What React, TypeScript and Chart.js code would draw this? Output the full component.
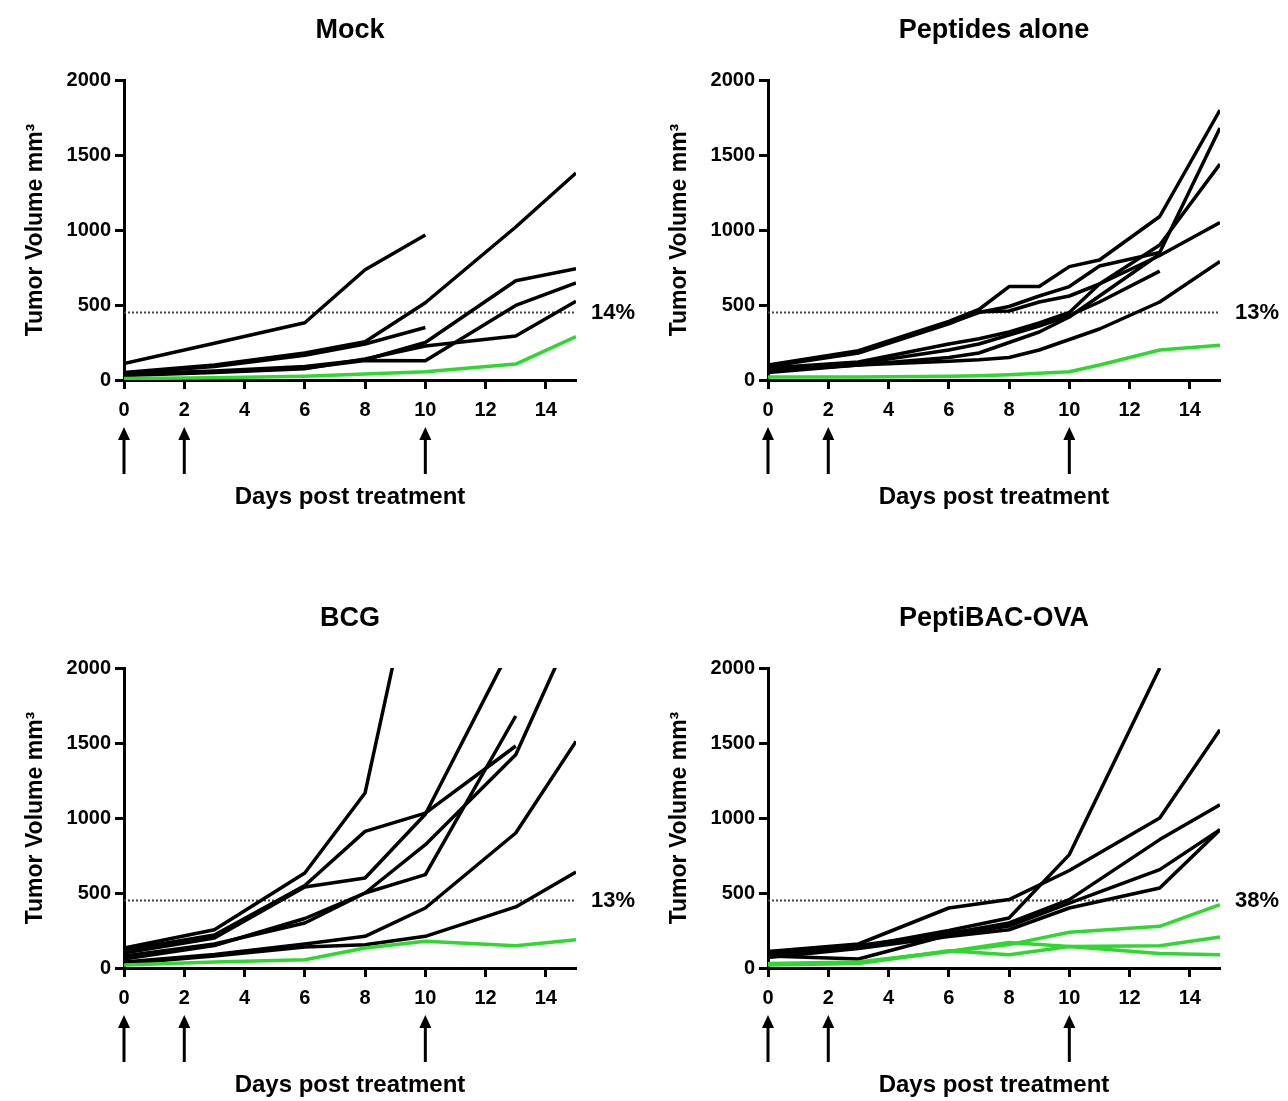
import React, { useEffect, useRef } from 'react';
import { Chart, registerables } from 'chart.js';

Chart.register(...registerables);

const FONT = "'Liberation Sans', Arial, Helvetica, sans-serif";
const GREEN = '#2ed82e';

// Axes
const X_TICKS = [0, 2, 4, 6, 8, 10, 12, 14];
const Y_TICKS = [0, 500, 1000, 1500, 2000];
const X_MIN = 0;
const X_MAX = 15;
const Y_MIN = 0;
const Y_MAX = 2000;
const THRESHOLD = 450;
const TREATMENT_DAYS = [0, 2, 10];
const X_TITLE = 'Days post treatment';
const Y_TITLE = 'Tumor Volume mm³';

// Mock
const mockDays = [0, 3, 6, 8, 10, 13, 15];
const mockBlack = [
  [110, 245, 382, 735, 967, null, null],
  [50, 100, 180, 255, 515, 1020, 1380],
  [45, 90, 165, 240, 350, null, null],
  [40, 60, 90, 135, 250, 662, 742],
  [35, 55, 80, 130, 128, 497, 647],
  [30, 50, 75, 140, 227, 294, 525],
];
const mockGreen = [[10, 15, 25, 40, 55, 106, 289]];

// Peptides alone
const pepDays = [0, 3, 6, 7, 8, 9, 10, 11, 13, 15];
const pepBlack = [
  [100, 195, 390, 470, 623, 623, 756, 800, 1090, 1800],
  [95, 185, 380, 450, 490, 560, 623, 760, 850, 1680],
  [90, 180, 375, 455, 460, 520, 560, 640, 900, 1440],
  [80, 120, 240, 275, 320, 380, 450, 640, 830, 1050],
  [70, 110, 200, 240, 300, 360, 430, 520, 726, null],
  [60, 100, 150, 180, 250, 320, 420, 560, 840, null],
  [50, 100, 125, 135, 150, 200, 270, 340, 520, 790],
];
const pepGreen = [[20, 20, 25, 28, 35, 45, 55, 100, 200, 232]];

// BCG
const bcgDays = [0, 3, 6, 8, 9, 10, 12, 13, 15];
const bcgBlack = [
  [133, 255, 633, 1167, 2090, null, null, null, null],
  [120, 220, 550, 911, null, 1033, 1330, 1480, null],
  [100, 200, 540, 600, null, 1025, null, 2200, null],
  [80, 160, 300, 500, null, 622, null, 1680, null],
  [60, 150, 330, 500, null, 822, null, 1422, 2310],
  [40, 90, 160, 211, null, 400, null, 900, 1511],
  [30, 80, 140, 155, null, 211, null, 407, 640],
];
const bcgGreen = [[20, 40, 55, 133, null, 178, null, 149, 189]];

// PeptiBAC-OVA
const pbDays = [0, 3, 6, 8, 10, 13, 15];
const pbBlack = [
  [100, 140, 250, 333, 756, 2000, null],
  [110, 160, 400, 456, 650, 1000, 1589],
  [90, 150, 230, 300, 456, 856, 1089],
  [80, 60, 220, 280, 433, 656, 922],
  [70, 130, 210, 255, 400, 533, 922],
];
const pbGreen = [
  [30, 40, 110, 156, 238, 278, 422],
  [25, 35, 110, 170, 144, 149, 207],
  [20, 30, 115, 89, 144, 96, 89],
];

const PANELS = [
  { title: 'Mock', days: mockDays, black: mockBlack, green: mockGreen, pct: '14%', left: 0, top: 0 },
  { title: 'Peptides alone', days: pepDays, black: pepBlack, green: pepGreen, pct: '13%', left: 644, top: 0 },
  { title: 'BCG', days: bcgDays, black: bcgBlack, green: bcgGreen, pct: '13%', left: 0, top: 588 },
  { title: 'PeptiBAC-OVA', days: pbDays, black: pbBlack, green: pbGreen, pct: '38%', left: 644, top: 588 },
];

const CW = 644;
const CH = 513;

const decorPlugin = {
  id: 'decor',
  afterDraw(chart: any, _args: any, opts: any) {
    const { ctx, chartArea, scales } = chart;
    const xs = scales.x;
    const ys = scales.y;
    ctx.save();
    ctx.fillStyle = '#000';
    ctx.strokeStyle = '#000';
    ctx.font = `bold 22px ${FONT}`;
    ctx.textAlign = 'left';
    ctx.textBaseline = 'middle';
    ctx.fillText(opts.pct, chartArea.right + 15, ys.getPixelForValue(THRESHOLD));
    const b = chartArea.bottom;
    for (const d of TREATMENT_DAYS) {
      const px = xs.getPixelForValue(d);
      ctx.lineWidth = 3;
      ctx.beginPath();
      ctx.moveTo(px, b + 56);
      ctx.lineTo(px, b + 94);
      ctx.stroke();
      ctx.beginPath();
      ctx.moveTo(px, b + 47);
      ctx.lineTo(px - 6, b + 60);
      ctx.lineTo(px + 6, b + 60);
      ctx.closePath();
      ctx.fill();
    }
    ctx.restore();
  },
};

function toPoints(days: number[], vals: (number | null)[]) {
  return vals.map((v, i) => ({ x: days[i], y: v }));
}

function buildConfig(p: any): any {
  const datasets: any[] = [];
  p.green.forEach((v: any) =>
    datasets.push({
      data: toPoints(p.days, v),
      borderColor: GREEN,
      borderWidth: 3.5,
      pointRadius: 0,
      spanGaps: true,
      borderJoinStyle: 'round',
    })
  );
  p.black.forEach((v: any) =>
    datasets.push({
      data: toPoints(p.days, v),
      borderColor: '#000',
      borderWidth: 3.5,
      pointRadius: 0,
      spanGaps: true,
      borderJoinStyle: 'round',
    })
  );
  datasets.push({
    data: [
      { x: X_MIN, y: THRESHOLD },
      { x: X_MAX, y: THRESHOLD },
    ],
    borderColor: '#444',
    borderWidth: 2,
    borderDash: [2, 2],
    pointRadius: 0,
  });

  const gridOpts = {
    drawOnChartArea: false,
    drawTicks: true,
    tickLength: 9,
    tickWidth: 3,
    tickColor: '#000',
  };
  const borderOpts = { display: true, color: '#000', width: 3 };

  return {
    type: 'line',
    data: { datasets },
    plugins: [decorPlugin],
    options: {
      animation: false,
      responsive: false,
      events: [],
      layout: { padding: { left: 0, right: CW - 576, top: 0, bottom: 0 } },
      plugins: {
        legend: { display: false },
        tooltip: { enabled: false },
        title: {
          display: true,
          text: p.title,
          fullSize: false,
          color: '#000',
          font: { family: FONT, size: 27, weight: 'bold' },
          padding: { top: 14, bottom: 33.6 },
        },
        decor: { pct: p.pct },
      },
      scales: {
        x: {
          type: 'linear',
          min: X_MIN,
          max: X_MAX,
          afterBuildTicks: (s: any) => {
            s.ticks = X_TICKS.map((v) => ({ value: v }));
          },
          afterFit: (s: any) => {
            s.height = 133;
          },
          grid: gridOpts,
          border: borderOpts,
          ticks: {
            color: '#000',
            font: { family: FONT, size: 20, weight: 'bold' },
            padding: 9,
            maxRotation: 0,
            autoSkip: false,
            callback: (v: any) => String(v),
          },
          title: {
            display: true,
            text: X_TITLE,
            color: '#000',
            font: { family: FONT, size: 24, weight: 'bold' },
            padding: { top: 0, bottom: 1 },
          },
        },
        y: {
          type: 'linear',
          min: Y_MIN,
          max: Y_MAX,
          afterBuildTicks: (s: any) => {
            s.ticks = Y_TICKS.map((v) => ({ value: v }));
          },
          afterFit: (s: any) => {
            s.width = 124;
          },
          grid: gridOpts,
          border: borderOpts,
          ticks: {
            color: '#000',
            font: { family: FONT, size: 20, weight: 'bold' },
            padding: 4,
            callback: (v: any) => String(v),
          },
          title: {
            display: true,
            text: Y_TITLE,
            color: '#000',
            font: { family: FONT, size: 23, weight: 'bold' },
            padding: { top: 22, bottom: 0 },
          },
        },
      },
    },
  };
}

function Panel({ p }: { p: any }) {
  const ref = useRef<HTMLCanvasElement>(null);
  useEffect(() => {
    const chart = new Chart(ref.current as HTMLCanvasElement, buildConfig(p));
    return () => chart.destroy();
  }, [p]);
  return (
    <canvas
      ref={ref}
      width={CW}
      height={CH}
      style={{ position: 'absolute', left: p.left, top: p.top, width: CW, height: CH }}
    />
  );
}

export default function App() {
  return (
    <div style={{ position: 'absolute', left: 0, top: 0, width: 1288, height: 1101, background: '#fff' }}>
      {PANELS.map((p) => (
        <Panel key={p.title} p={p} />
      ))}
    </div>
  );
}
